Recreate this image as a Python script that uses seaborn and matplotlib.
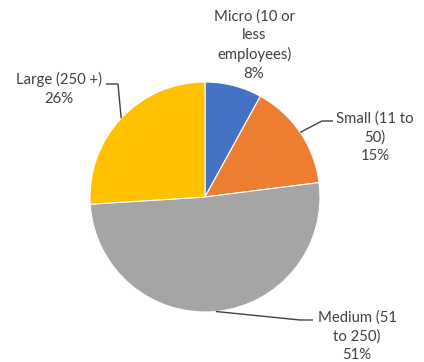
import numpy as np
import matplotlib
matplotlib.use("Agg")
import matplotlib.pyplot as plt
import seaborn as sns

categories = ["Micro (10 or\nless\nemployees)", "Small (11 to\n50)", "Medium (51\nto 250)", "Large (250 +)"]
shares = [8, 15, 51, 26]
colors = ["#4472C4", "#ED7D31", "#A5A5A5", "#FFC000"]

sns.set_theme(style="white")
plt.rcParams["font.family"] = ["Lato", "DejaVu Sans"]

W, H = 424, 362
fig = plt.figure(figsize=(W / 100, H / 100), dpi=100)
ax = fig.add_axes([0, 0, 1, 1])

cx, cy, r = 205, H - 197, 115
wedges, _ = ax.pie(shares, colors=colors, startangle=90, counterclock=False,
                   center=(cx, cy), radius=r,
                   wedgeprops=dict(edgecolor="white", linewidth=0.8))
ax.set_xlim(0, W)
ax.set_ylim(0, H)
ax.set_aspect("equal", adjustable="box")
ax.axis("off")

text_color = "#404040"
# label block centres (x, y from top) and leader-line elbow points
label_pos = [(254, 45), (375, 137), (357, 336), (59, 89)]
elbows = [None, [(322, 121), (333, 121)], [(300, 320), (313, 320)], [(118, 84), (106, 84)]]

for w, cat, val, (lx, ly), elb in zip(wedges, categories, shares, label_pos, elbows):
    ax.text(lx, H - ly, f"{cat}\n{val}%", ha="center", va="center",
            fontsize=10.7, color=text_color, linespacing=1.42)
    if elb is not None:
        mid = np.deg2rad((w.theta1 + w.theta2) / 2)
        sx, sy = cx + r * np.cos(mid), cy + r * np.sin(mid)
        xs = [sx] + [p[0] for p in elb]
        ys = [sy] + [H - p[1] for p in elb]
        ax.plot(xs, ys, color=text_color, lw=1.0, solid_capstyle="butt")

fig.savefig("out.png", dpi=100, facecolor="white")
